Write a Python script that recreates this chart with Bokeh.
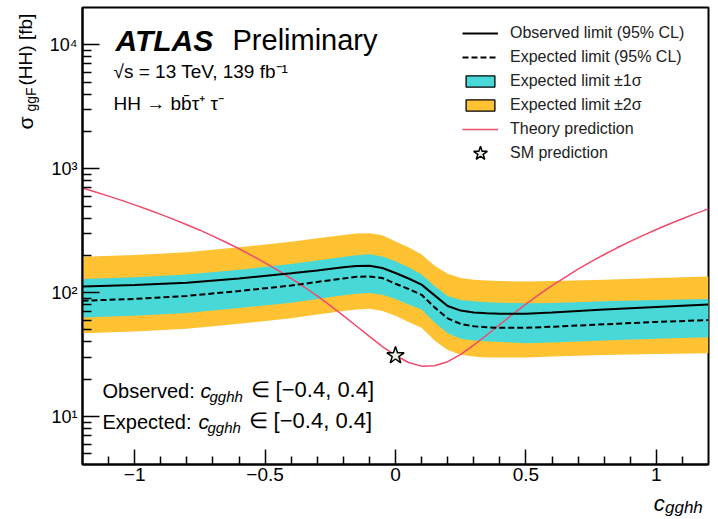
from math import pi, log10
from bokeh.plotting import figure
from bokeh.layouts import row, column
from bokeh.models import Range1d, FixedTicker, Label, Legend, LegendItem
from bokeh.embed import file_html
from bokeh.resources import INLINE

# ---------------- data ----------------
C_LIM = [-1.2, -1.0, -0.8, -0.6, -0.4, -0.3, -0.2, -0.15, -0.1, -0.05, 0.0, 0.05,
         0.1, 0.15, 0.2, 0.25, 0.3, 0.35, 0.4, 0.5, 0.6, 0.8, 1.0, 1.2]
OBS = [112, 115, 120, 130, 143, 151, 160, 164, 165, 158, 144, 130,
       116, 95, 78, 71.6, 69, 68, 67.5, 67.5, 69, 73, 76.5, 80]
EXP = [86, 89, 94, 103, 114, 122, 130, 134, 135, 131, 118, 107,
       96, 76, 62, 55.8, 53.5, 52.5, 52, 52, 53, 55.5, 58, 60]
EXP_P1 = [129, 133, 140, 153, 170, 182, 194, 200, 204, 196, 179, 160,
          140, 113, 94, 87, 85, 83.6, 83, 82, 82.5, 85, 87, 89]
EXP_M1 = [63, 65, 68.6, 75, 83, 89, 95, 98, 99.5, 96, 89, 80,
          73, 57.5, 47, 42.5, 41, 40.5, 40, 39, 39.5, 41, 42.5, 43.6]
EXP_P2 = [195, 201, 212, 232, 257, 275, 292, 300, 302, 290, 259, 232,
          203, 165, 142, 131, 127, 125, 124, 123, 124, 127, 131, 135]
EXP_M2 = [47, 48.5, 51.2, 56, 62, 66.5, 71, 73, 74, 71, 65, 58,
          52, 41, 34.5, 31.5, 30.5, 30, 30, 30, 30.5, 31.3, 32, 32.4]

C_TH = [-1.2, -1.15, -1.1, -1.05, -1.0, -0.95, -0.9, -0.85, -0.8, -0.75, -0.7, -0.65,
        -0.6, -0.55, -0.5, -0.45, -0.4, -0.35, -0.3, -0.25, -0.2, -0.15, -0.1, -0.05,
        0.0, 0.05, 0.1, 0.15, 0.2, 0.25, 0.3, 0.35, 0.4, 0.45, 0.5, 0.55,
        0.6, 0.65, 0.7, 0.75, 0.8, 0.85, 0.9, 0.95, 1.0, 1.05, 1.1, 1.15, 1.2]
THEORY = [699, 649, 601, 555, 511, 469, 428, 390, 353, 319, 286, 255,
          226, 199, 174, 151, 130, 111, 94, 78.6, 65.2, 53.8, 44.3, 36.7,
          31.1, 27.3, 25.5, 25.7, 27.7, 31.7, 37.7, 45.5, 55.3, 67.0, 80.7, 96.3,
          114, 133, 155, 178, 203, 230, 259, 290, 323, 358, 395, 434, 474]

SM_C = [0.0]
SM_XS = [31.05]

X_TICKS = [-1, -0.5, 0, 0.5, 1]
X_TICK_LABELS = ["\u22121", "\u22120.5", "0", "0.5", "1"]
X_MINOR = [-1.1, -0.9, -0.8, -0.7, -0.6, -0.4, -0.3, -0.2, -0.1,
           0.1, 0.2, 0.3, 0.4, 0.6, 0.7, 0.8, 0.9, 1.1]
Y_TICKS = [10, 100, 1000, 10000]
Y_TICK_LABELS = ["10\u00b9", "10\u00b2", "10\u00b3", "10\u2074"]
Y_MINOR = [5, 6, 7, 8, 9, 20, 30, 40, 50, 60, 70, 80, 90,
           200, 300, 400, 500, 600, 700, 800, 900,
           2000, 3000, 4000, 5000, 6000, 7000, 8000, 9000]

LEGEND_LABELS = ["Observed limit (95% CL)", "Expected limit (95% CL)",
                 "Expected limit \u00b11\u03c3", "Expected limit \u00b12\u03c3",
                 "Theory prediction", "SM prediction"]

NAN = float("nan")

# ---------------- style / geometry ----------------
FONT = "Liberation Sans"
YELLOW = "#fec233"
CYAN = "#48d8d8"
RED = "#f04a6c"
STAR_FILL = "#e9f2e2"

TOT_H = 517
YL_W = 40
MAIN_W, MAIN_H = 676, 490
XL_H = TOT_H - MAIN_H
BL, BR, BT, BB = 42, 8, 7, 26
XMIN, XMAX = -1.2, 1.2
YMIN, YMAX = 4.1, 2.0e4

FX0, FX1 = YL_W + BL, YL_W + MAIN_W - BR
FY0, FY1 = BT, MAIN_H - BB
MID = 0.35   # label anchors sit this many em above the text baseline


def dx(px):
    return XMIN + (px - FX0) / (FX1 - FX0) * (XMAX - XMIN)


def dy(py):
    lt, lb = log10(YMAX), log10(YMIN)
    return 10 ** (lt - (py - FY0) / (FY1 - FY0) * (lt - lb))


p = figure(width=MAIN_W, height=MAIN_H, x_range=Range1d(XMIN, XMAX),
           y_range=Range1d(YMIN, YMAX), y_axis_type="log", output_backend="svg",
           toolbar_location=None, title=None,
           min_border_left=BL, min_border_right=BR, min_border_top=BT, min_border_bottom=BB)
p.grid.visible = False
p.outline_line_color = "black"
p.outline_line_width = 2
p.outline_line_alpha = 1
p.background_fill_color = "white"
p.border_fill_color = "white"

xa = p.xaxis[0]
ya = p.yaxis[0]
xa.ticker = FixedTicker(ticks=X_TICKS, minor_ticks=X_MINOR)
xa.major_label_overrides = dict(zip(X_TICKS, X_TICK_LABELS))
ya.ticker = FixedTicker(ticks=Y_TICKS, minor_ticks=Y_MINOR)
ya.major_label_overrides = dict(zip(Y_TICKS, Y_TICK_LABELS))
for ax in (xa, ya):
    ax.axis_line_width = 2
    ax.axis_line_color = "black"
    ax.major_tick_out = 0
    ax.minor_tick_out = 0
    ax.major_tick_line_width = 1.5
    ax.minor_tick_line_width = 1.5
    ax.major_tick_line_color = "black"
    ax.minor_tick_line_color = "black"
    ax.major_label_text_font = FONT
    ax.major_label_text_color = "black"
xa.major_tick_in = 15
xa.minor_tick_in = 8
ya.major_tick_in = 17
ya.minor_tick_in = 9
xa.major_label_text_font_size = "19px"
xa.major_label_standoff = 3
ya.major_label_text_font_size = "18px"
ya.major_label_standoff = 5

# expected-limit bands
p.varea(x=C_LIM, y1=EXP_M2, y2=EXP_P2, fill_color=YELLOW)
p.varea(x=C_LIM, y1=EXP_M1, y2=EXP_P1, fill_color=CYAN)

# curves and SM point
r_th = p.line(C_TH, THEORY, line_color=RED, line_width=1.5)
r_obs = p.line(C_LIM, OBS, line_color="black", line_width=2)
r_exp = p.line(C_LIM, EXP, line_color="black", line_width=2, line_dash="6 3")
r_sm = p.scatter(SM_C, SM_XS, marker="star", size=18, fill_color=STAR_FILL,
                 line_color="black", line_width=1.5)

# legend-only swatches for the bands (NaN data: nothing drawn in the plot)
r_b1 = p.quad(left=[NAN], right=[NAN], top=[NAN], bottom=[NAN], fill_color=CYAN,
              line_color="black", line_width=1.3)
r_b2 = p.quad(left=[NAN], right=[NAN], top=[NAN], bottom=[NAN], fill_color=YELLOW,
              line_color="black", line_width=1.3)

common = dict(orientation="vertical", padding=0, margin=0, border_line_color=None,
              background_fill_alpha=0, label_text_font=FONT, label_text_font_size="16px",
              label_text_color="#222222", label_standoff=12, glyph_width=36)
leg = Legend(items=[LegendItem(label=LEGEND_LABELS[0], renderers=[r_obs]),
                    LegendItem(label=LEGEND_LABELS[1], renderers=[r_exp]),
                    LegendItem(label=LEGEND_LABELS[2], renderers=[r_b1]),
                    LegendItem(label=LEGEND_LABELS[3], renderers=[r_b2]),
                    LegendItem(label=LEGEND_LABELS[4], renderers=[r_th])],
             location=(462 - FX0, FY1 - 139), glyph_height=14, label_height=20,
             spacing=4, **common)
leg2 = Legend(items=[LegendItem(label=LEGEND_LABELS[5], renderers=[r_sm])],
              location=(462 - FX0, FY1 - 173), glyph_height=40, label_height=20,
              spacing=0, **common)
p.add_layout(leg)
p.add_layout(leg2)


def mk_label(x, y, text, size, style="normal", angle=0.0):
    return Label(x=x, y=y, text=text, text_font=FONT, text_font_size=f"{size}px",
                 text_font_style=style, text_baseline="alphabetic", text_align="left",
                 angle=angle, text_color="black")


def lab(px, base, text, size, style="normal"):
    p.add_layout(mk_label(dx(px), dy(base - MID * size), text, size, style))


# header
lab(115, 50, "ATLAS", 30, "bold italic")
lab(232, 50, "Preliminary", 29)
lab(113, 78, "\u221as = 13 TeV, 139 fb\u207b\u00b9", 19)
lab(113, 110, "HH \u2192 bb\u0304\u03c4\u207a \u03c4\u207b", 19)

# allowed intervals
lab(102, 397, "Observed:", 20)
lab(200, 397, "c", 21, "italic")
lab(209, 401, "gghh", 15, "italic")
lab(250, 397, "\u2208 [\u22120.4, 0.4]", 22)
lab(102, 428, "Expected:", 20)
lab(198, 428, "c", 21, "italic")
lab(207, 432, "gghh", 15, "italic")
lab(248, 428, "\u2208 [\u22120.4, 0.4]", 22)


def strip(w, h):
    f = figure(width=w, height=h, x_range=Range1d(0, w), y_range=Range1d(0, h),
               output_backend="svg", toolbar_location=None, title=None,
               x_axis_location=None, y_axis_location=None, min_border=0,
               outline_line_color=None)
    f.grid.visible = False
    f.background_fill_color = "white"
    f.border_fill_color = "white"
    return f


def vlab(fig, base_x, py, text, size):
    fig.add_layout(mk_label(base_x - MID * size, TOT_H - py, text, size, angle=pi / 2))


# y title strip (page x 0..40)
yl = strip(YL_W, TOT_H)
vlab(yl, 32, 129, "\u03c3", 21)
vlab(yl, 35, 111, "ggF", 14)
vlab(yl, 32, 85, "(HH) [fb]", 19)

# x title strip (page y 490..517)
xl = strip(MAIN_W, XL_H)
xl.add_layout(mk_label(657 - YL_W, TOT_H - (511 - MID * 22), "c", 22, "italic"))
xl.add_layout(mk_label(669 - YL_W, TOT_H - (513 - MID * 17), "gghh", 17, "italic"))

page = row(yl, column(p, xl))
open("out.html", "w").write(file_html(page, INLINE))
